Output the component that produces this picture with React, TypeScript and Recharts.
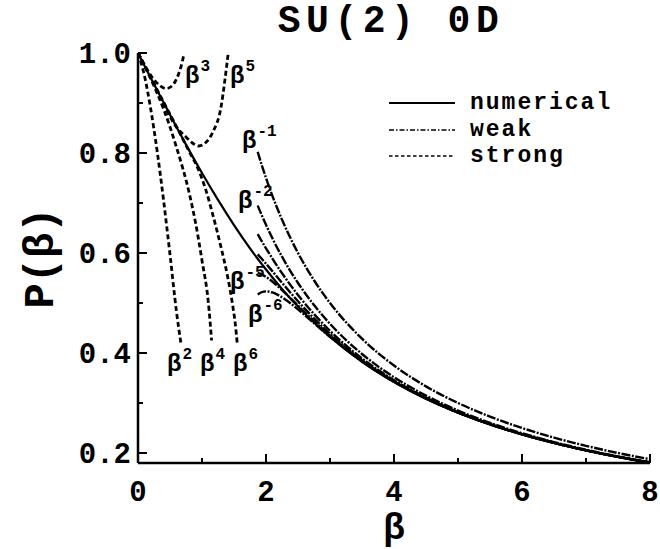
import React from 'react';
import { LineChart, Line, XAxis, YAxis, ReferenceDot } from 'recharts';

const FONT = '"Liberation Mono", "Courier New", monospace';

// numerical (exact) curve
const numBeta = [0, 0.1, 0.25, 0.5, 0.75, 1, 1.25, 1.5, 1.75, 2, 2.25, 2.5, 2.75, 3, 3.5, 4, 4.5, 5, 5.5, 6, 6.5, 7, 7.5, 8];
const numP = [1, 0.975, 0.9377, 0.8763, 0.8168, 0.7599, 0.7061, 0.6559, 0.6094, 0.5669, 0.5281, 0.4928, 0.4609, 0.4321, 0.3825, 0.342, 0.3085, 0.2807, 0.2572, 0.2373, 0.2201, 0.2053, 0.1922, 0.1807];

// weak coupling truncations (orders beta^-1 ... beta^-6)
const weakBeta = [1.87, 1.93, 2, 2.1, 2.25, 2.5, 2.75, 3, 3.5, 4, 4.5, 5, 5.5, 6, 6.5, 7, 7.5, 8];
const weak1 = [0.8021, 0.7772, 0.75, 0.7143, 0.6667, 0.6, 0.5455, 0.5, 0.4286, 0.375, 0.3333, 0.3, 0.2727, 0.25, 0.2308, 0.2143, 0.2, 0.1875];
const weak2 = [0.6949, 0.6765, 0.6563, 0.6293, 0.5926, 0.54, 0.4959, 0.4583, 0.398, 0.3516, 0.3148, 0.285, 0.2603, 0.2396, 0.2219, 0.2066, 0.1933, 0.1816];
const weak3 = [0.6376, 0.6244, 0.6094, 0.5888, 0.5597, 0.516, 0.4778, 0.4444, 0.3892, 0.3457, 0.3107, 0.282, 0.2581, 0.2378, 0.2205, 0.2055, 0.1924, 0.1809];
const weak4 = [0.5973, 0.5889, 0.5786, 0.5635, 0.5405, 0.5034, 0.4692, 0.4384, 0.3859, 0.3438, 0.3095, 0.2812, 0.2575, 0.2375, 0.2203, 0.2053, 0.1923, 0.1808];
const weak5 = [0.5604, 0.5574, 0.5522, 0.5428, 0.5258, 0.4948, 0.4639, 0.4349, 0.3843, 0.343, 0.3091, 0.2809, 0.2574, 0.2374, 0.2202, 0.2053, 0.1922, 0.1807];
const weak6 = [0.5171, 0.5215, 0.5233, 0.5211, 0.5115, 0.4872, 0.4596, 0.4324, 0.3833, 0.3425, 0.3088, 0.2808, 0.2573, 0.2373, 0.2202, 0.2052, 0.1922, 0.1807];

// strong coupling truncations
const s2Beta = [0, 0.1, 0.2, 0.3, 0.4, 0.5, 0.6, 0.67];
const s2P = [1, 0.955, 0.887, 0.803, 0.705, 0.597, 0.484, 0.42];
const s3Beta = [0, 0.125, 0.23, 0.33, 0.44, 0.52, 0.59, 0.67, 0.72];
const s3P = [1, 0.971, 0.95, 0.936, 0.929, 0.933, 0.945, 0.972, 0.998];
const s4Beta = [0, 0.2, 0.4, 0.6, 0.8, 0.9, 1.0, 1.1, 1.15];
const s4P = [1, 0.948, 0.888, 0.812, 0.72, 0.66, 0.585, 0.5, 0.425];
const s5Beta = [0, 0.25, 0.48, 0.6, 0.75, 0.85, 0.95, 1.05, 1.17, 1.3, 1.36, 1.41];
const s5P = [1, 0.938, 0.877, 0.852, 0.832, 0.82, 0.814, 0.82, 0.842, 0.894, 0.948, 1.0];
const s6Beta = [0, 0.3, 0.6, 0.8, 0.94, 1.05, 1.17, 1.3, 1.4, 1.47, 1.52, 1.55];
const s6P = [1, 0.926, 0.853, 0.803, 0.768, 0.73, 0.676, 0.61, 0.553, 0.503, 0.458, 0.42];

// curve labels (data coordinates of baseline-left of the label)
const labelSup = ['3', '5', '-1', '-2', '-5', '-6', '2', '4', '6'];
const labelBeta = [0.734, 1.4375, 1.625, 1.5625, 1.4375, 1.72, 0.453, 0.969, 1.484];
const labelP = [0.941, 0.941, 0.811, 0.691, 0.529, 0.463, 0.365, 0.365, 0.365];

const xTicks = [0, 1, 2, 3, 4, 5, 6, 7, 8];
const yTicks = [0.2, 0.3, 0.4, 0.5, 0.6, 0.7, 0.8, 0.9, 1.0];

const legendNames = ['numerical', 'weak', 'strong'];

const pts = (bs: number[], ps: number[]) => bs.map((b, i) => ({ b, p: ps[i] }));

const weakSeries = [weak1, weak2, weak3, weak4, weak5, weak6];
const strongSeries: [number[], number[]][] = [
  [s2Beta, s2P], [s3Beta, s3P], [s4Beta, s4P], [s5Beta, s5P], [s6Beta, s6P],
];

const NUM_STYLE = { strokeWidth: 2.2 };
const WEAK_STYLE = { strokeWidth: 2.4, dash: '9 1.5 2 1.5' };
const STRONG_STYLE = { strokeWidth: 2.8, dash: '5 3' };

const isMajorX = (v: number) => Math.round(v) % 2 === 0;
const isMajorY = (v: number) => Math.round(v * 10) % 2 === 0;

function XTickBottom(props: any) {
  const { x, y, payload } = props;
  const v = payload.value;
  const major = isMajorX(v);
  return (
    <g>
      <line x1={x} x2={x} y1={y} y2={y - (major ? 9 : 5)} stroke="#000" strokeWidth={2} />
      {major && (
        <text x={x} y={y + 38} textAnchor="middle" fontFamily={FONT} fontWeight="bold" fontSize={29} fill="#000">
          {String(v)}
        </text>
      )}
    </g>
  );
}

function XTickTop(props: any) {
  const { x, y, payload } = props;
  const major = isMajorX(payload.value);
  return <line x1={x} x2={x} y1={y} y2={y + (major ? 9 : 5)} stroke="#000" strokeWidth={2} />;
}

function YTickLeft(props: any) {
  const { x, y, payload } = props;
  const v = payload.value;
  const major = isMajorY(v);
  return (
    <g>
      <line x1={x} x2={x + (major ? 9 : 5)} y1={y} y2={y} stroke="#000" strokeWidth={2} />
      {major && (
        <text x={x - 7} y={y + 10} textAnchor="end" fontFamily={FONT} fontWeight="bold" fontSize={29} fill="#000">
          {v.toFixed(1)}
        </text>
      )}
    </g>
  );
}

function YTickRight(props: any) {
  const { x, y, payload } = props;
  const major = isMajorY(payload.value);
  return <line x1={x} x2={x - (major ? 9 : 5)} y1={y} y2={y} stroke="#000" strokeWidth={2} />;
}

function YLabel(props: any) {
  const vb = props.viewBox || {};
  const cx = 39;
  const cy = (vb.y || 0) + (vb.height || 0) / 2;
  return (
    <text
      x={cx}
      y={cy}
      transform={`rotate(-90, ${cx}, ${cy})`}
      textAnchor="middle"
      dy={14}
      fontFamily={FONT}
      fontWeight="bold"
      fontSize={42}
      fill="#000"
    >
      P(β)
    </text>
  );
}

function XLabel(props: any) {
  const vb = props.viewBox || {};
  const cx = (vb.x || 0) + (vb.width || 0) / 2;
  return (
    <text x={cx} y={539} textAnchor="middle" fontFamily={FONT} fontWeight="bold" fontSize={36} fill="#000">
      β
    </text>
  );
}

function CurveLabel(props: any) {
  const vb = props.viewBox || {};
  const { sup } = props;
  return (
    <text x={vb.x} y={vb.y} fontFamily={FONT} fontWeight="bold" fontSize={24} fill="#000">
      <tspan>β</tspan>
      <tspan fontSize={16} dy={-12} dx={1}>{sup}</tspan>
    </text>
  );
}

function LegendOverlay() {
  const rowY = [103, 129.5, 156];
  return (
    <>
      {legendNames.map((name, i) => (
        <div
          key={name}
          style={{ position: 'absolute', left: 386, top: rowY[i] - 12, height: 24, display: 'flex', alignItems: 'center' }}
        >
          <svg width={72} height={24} style={{ display: 'block' }}>
            <line
              x1={3}
              x2={69}
              y1={12}
              y2={12}
              stroke="#000"
              strokeWidth={i === 0 ? 2 : 1.6}
              strokeDasharray={i === 0 ? undefined : i === 1 ? '5 2 1.5 2' : '3.5 2.5'}
            />
          </svg>
          <span
            style={{
              marginLeft: 12,
              fontFamily: FONT,
              fontWeight: 'bold',
              fontSize: 23,
              letterSpacing: 2,
              lineHeight: '24px',
              height: 24,
              display: 'block',
              color: '#000',
            }}
          >
            {name}
          </span>
        </div>
      ))}
    </>
  );
}

export default function App() {
  return (
    <div style={{ position: 'absolute', left: 0, top: 0, width: 660, height: 549, background: '#fff', overflow: 'hidden' }}>
      <div
        style={{
          position: 'absolute',
          left: 191,
          top: 2,
          width: 400,
          textAlign: 'center',
          fontFamily: FONT,
          fontWeight: 'bold',
          fontSize: 38,
          letterSpacing: 5.5,
          lineHeight: '40px',
          color: '#000',
        }}
      >
        SU(2) 0D
      </div>
      <LineChart width={660} height={549} margin={{ top: 53, right: 10, bottom: 0, left: 0 }}>
        <XAxis
          xAxisId={0}
          dataKey="b"
          type="number"
          domain={[0, 8]}
          ticks={xTicks}
          interval={0}
          allowDataOverflow
          height={86}
          tickSize={0}
          tickMargin={0}
          tickLine={false}
          tick={<XTickBottom />}
          axisLine={{ stroke: '#000', strokeWidth: 2.5 }}
          label={<XLabel />}
        />
        <XAxis
          xAxisId="top"
          orientation="top"
          dataKey="b"
          type="number"
          domain={[0, 8]}
          ticks={xTicks}
          interval={0}
          allowDataOverflow
          height={0}
          tickSize={0}
          tickMargin={0}
          tickLine={false}
          tick={<XTickTop />}
          axisLine={{ stroke: '#000', strokeWidth: 2.5 }}
        />
        <YAxis
          yAxisId={0}
          type="number"
          domain={[0.18, 1]}
          ticks={yTicks}
          interval={0}
          allowDataOverflow
          width={138}
          tickSize={0}
          tickMargin={0}
          tickLine={false}
          tick={<YTickLeft />}
          axisLine={{ stroke: '#000', strokeWidth: 2.5 }}
          label={<YLabel />}
        />
        <YAxis
          yAxisId="right"
          orientation="right"
          type="number"
          domain={[0.18, 1]}
          ticks={yTicks}
          interval={0}
          allowDataOverflow
          width={0}
          tickSize={0}
          tickMargin={0}
          tickLine={false}
          tick={<YTickRight />}
          axisLine={{ stroke: '#000', strokeWidth: 2.5 }}
        />
        <Line
          data={pts(numBeta, numP)}
          dataKey="p"
          type="monotone"
          stroke="#000"
          strokeWidth={NUM_STYLE.strokeWidth}
          dot={false}
          isAnimationActive={false}
        />
        {weakSeries.map((w, i) => (
          <Line
            key={'w' + i}
            data={pts(weakBeta, w)}
            dataKey="p"
            type="monotone"
            stroke="#000"
            strokeWidth={WEAK_STYLE.strokeWidth}
            strokeDasharray={WEAK_STYLE.dash}
            dot={false}
            isAnimationActive={false}
          />
        ))}
        {strongSeries.map(([bs, ps], i) => (
          <Line
            key={'s' + i}
            data={pts(bs, ps)}
            dataKey="p"
            type="monotone"
            stroke="#000"
            strokeWidth={STRONG_STYLE.strokeWidth}
            strokeDasharray={STRONG_STYLE.dash}
            dot={false}
            isAnimationActive={false}
          />
        ))}
        {labelSup.map((s, i) => (
          <ReferenceDot
            key={'l' + i}
            x={labelBeta[i]}
            y={labelP[i]}
            r={0}
            fill="none"
            stroke="none"
            label={<CurveLabel sup={s} />}
          />
        ))}
      </LineChart>
      <LegendOverlay />
    </div>
  );
}
